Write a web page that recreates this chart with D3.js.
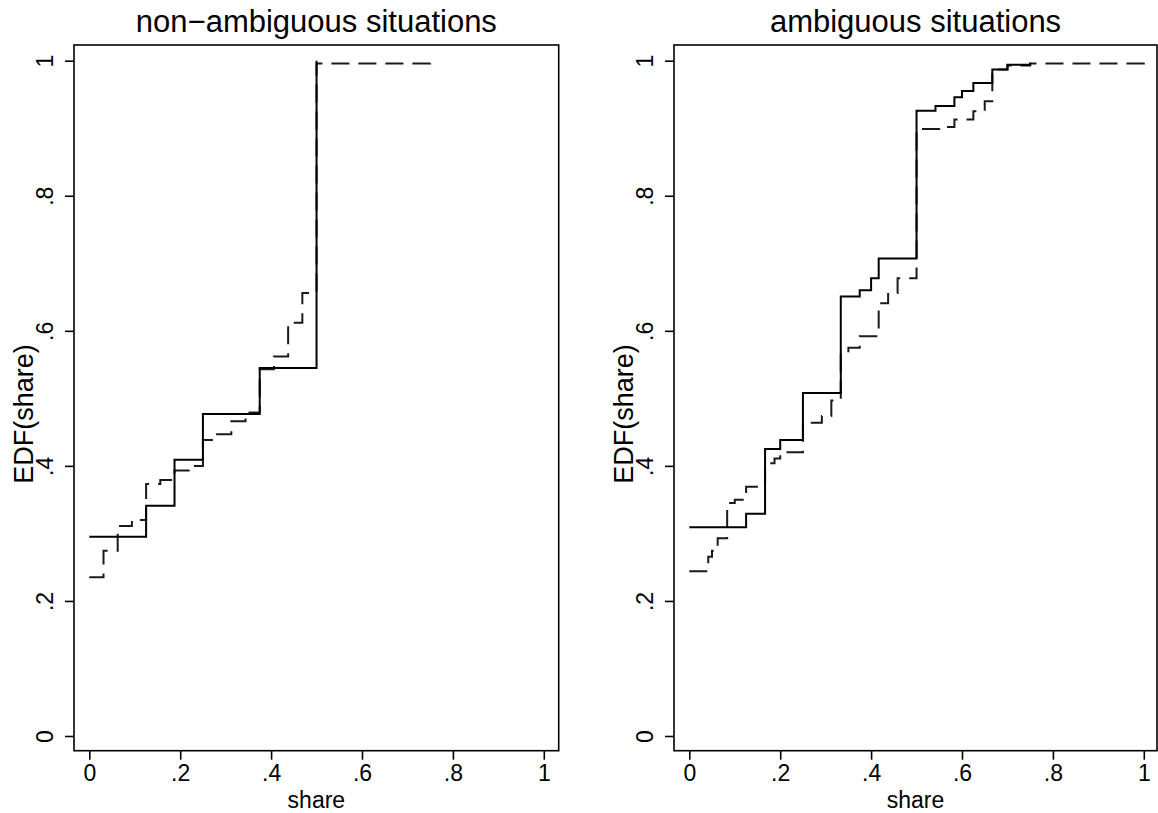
<!DOCTYPE html>
<html><head><meta charset="utf-8">
<script src="https://cdn.jsdelivr.net/npm/d3@7"></script>
<style>
html,body{margin:0;padding:0;background:#fff;}
svg{display:block;}
text{font-family:"Liberation Sans", Arial, Helvetica, sans-serif; fill:#000;}
</style>
</head><body>
<svg id="c" width="1158" height="813"></svg>
<script>
// ---- data ----
const titles = ["non\u2212ambiguous situations", "ambiguous situations"];
const xTitle = "share";
const yTitle = "EDF(share)";
const xTicks = [0, 0.2, 0.4, 0.6, 0.8, 1];
const xTickLabels = ["0", ".2", ".4", ".6", ".8", "1"];
const yTicks = [0, 0.2, 0.4, 0.6, 0.8, 1];
const yTickLabels = ["0", ".2", ".4", ".6", ".8", "1"];

// non-ambiguous, solid series
const nonAmbSolidX = [0, 0.125, 0.1875, 0.25, 0.375, 0.5];
const nonAmbSolidY = [0.295, 0.341, 0.409, 0.477, 0.545, 1.0];
// non-ambiguous, dashed series
const nonAmbDashX = [0, 0.03125, 0.0625, 0.09375, 0.125, 0.15625, 0.1875, 0.21875, 0.25, 0.28125, 0.3125, 0.34375, 0.375, 0.40625, 0.4375, 0.46875, 0.5, 0.75];
const nonAmbDashY = [0.235, 0.2745, 0.311, 0.32, 0.373, 0.379, 0.393, 0.400, 0.4385, 0.447, 0.466, 0.479, 0.543, 0.562, 0.612, 0.656, 0.996, 1.0];
// ambiguous, solid series
const ambSolidX = [0, 0.125, 0.1667, 0.2, 0.25, 0.3333, 0.375, 0.4, 0.4167, 0.5, 0.5417, 0.5833, 0.6, 0.625, 0.6667, 0.7, 0.75];
const ambSolidY = [0.309, 0.329, 0.425, 0.4385, 0.508, 0.651, 0.660, 0.678, 0.707, 0.926, 0.933, 0.946, 0.955, 0.967, 0.987, 0.994, 0.997];
// ambiguous, dashed series
const ambDashX = [0, 0.0417, 0.05, 0.0625, 0.0833, 0.1, 0.125, 0.1667, 0.1875, 0.2, 0.25, 0.2917, 0.3125, 0.3333, 0.35, 0.375, 0.4167, 0.4375, 0.4583, 0.5, 0.55, 0.5833, 0.625, 0.65, 0.6667, 0.7, 0.75, 1.0];
const ambDashY = [0.244, 0.2656, 0.2745, 0.293, 0.345, 0.350, 0.369, 0.404, 0.411, 0.420, 0.464, 0.474, 0.497, 0.567, 0.575, 0.592, 0.641, 0.656, 0.678, 0.899, 0.902, 0.913, 0.925, 0.940, 0.987, 0.993, 0.996, 1.0];

// ---- drawing ----
const svg = d3.select("#c");
const frameTop = 45, frameBottom = 750.7;
const yPix0 = 736, yPix1 = 60.7;

const panels = [
  {title: titles[0], sX: nonAmbSolidX, sY: nonAmbSolidY, dX: nonAmbDashX, dY: nonAmbDashY,
   left: 74, right: 558.7, x0: 89.3, x1: 543.8},
  {title: titles[1], sX: ambSolidX, sY: ambSolidY, dX: ambDashX, dY: ambDashY,
   left: 674, right: 1157, x0: 689.3, x1: 1143.8}
];

panels.forEach(p => {
  const g = svg.append("g");
  const x = d3.scaleLinear().domain([0, 1]).range([p.x0, p.x1]);
  const y = d3.scaleLinear().domain([0, 1]).range([yPix0, yPix1]);
  const cx = (p.left + p.right) / 2;

  // x axis
  const xa = g.append("g").attr("transform", `translate(0,${frameBottom})`)
    .call(d3.axisBottom(x).tickValues(xTicks).tickFormat((d, i) => xTickLabels[i]).tickSize(9).tickSizeOuter(0));
  xa.select(".domain").remove();
  xa.selectAll(".tick line").attr("stroke", "#000").attr("stroke-width", 1.6);
  xa.selectAll(".tick text").attr("y", 30).attr("dy", 0)
    .style("font-size", "23px").attr("fill", "#000");

  // y axis
  const ya = g.append("g").attr("transform", `translate(${p.left},0)`)
    .call(d3.axisLeft(y).tickValues(yTicks).tickFormat((d, i) => yTickLabels[i]).tickSize(9).tickSizeOuter(0));
  ya.select(".domain").remove();
  ya.selectAll(".tick line").attr("stroke", "#000").attr("stroke-width", 1.6);
  ya.selectAll(".tick text").attr("x", 0).attr("dy", 0)
    .attr("text-anchor", "middle")
    .attr("transform", `translate(-21,0) rotate(-90)`)
    .style("font-size", "23px").attr("fill", "#000");

  // frame
  g.append("rect").attr("x", p.left).attr("y", frameTop)
    .attr("width", p.right - p.left).attr("height", frameBottom - frameTop)
    .attr("fill", "none").attr("stroke", "#000").attr("stroke-width", 1.6);

  // lines
  const line = d3.line().x(d => x(d[0])).y(d => y(d[1])).curve(d3.curveStepAfter);
  const dashPts = p.dX.map((v, i) => [v, p.dY[i]]);
  const solidPts = p.sX.map((v, i) => [v, p.sY[i]]);
  g.append("path").attr("d", line(dashPts)).attr("fill", "none")
    .attr("stroke", "#1a1a1a").attr("stroke-width", 2).attr("stroke-dasharray", "18 9");
  g.append("path").attr("d", line(solidPts)).attr("fill", "none")
    .attr("stroke", "#000").attr("stroke-width", 2);

  // titles
  g.append("text").attr("text-anchor", "middle")
    .attr("transform", `translate(${cx},32)`)
    .style("font-size", "31px").text(p.title);
  g.append("text").attr("text-anchor", "middle")
    .attr("transform", `translate(${cx},808)`)
    .style("font-size", "23px").text(xTitle);
  g.append("text").attr("text-anchor", "middle")
    .attr("transform", `translate(${p.left - 41},414) rotate(-90)`)
    .style("font-size", "27px").text(yTitle);
});
</script>
</body></html>
